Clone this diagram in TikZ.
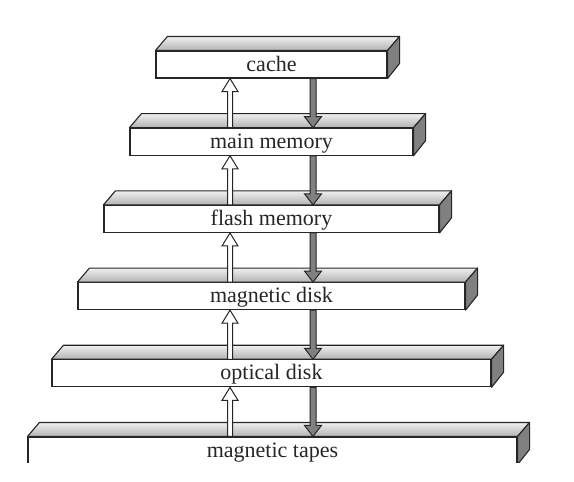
\documentclass[tikz,border=0pt]{standalone}
\usepackage{fontspec}
\setmainfont{Liberation Serif}
\usetikzlibrary{calc}
\tikzset{
  x=1pt, y=-1pt,
  front/.style={draw=black!85, line width=1.1pt, fill=white, inner sep=0pt,
    minimum height=27pt, text height=14pt, text depth=1pt,
    font=\fontsize{22}{26}\selectfont, text=black!85},
  topface/.style={draw=black!85, line width=1.1pt, line join=round,
    top color=black!6, bottom color=black!30},
  sideface/.style={draw=black!85, line width=1.1pt, line join=round, fill=black!50},
  uparr/.style={draw=black!85, line width=1pt, fill=white, line join=miter},
  downarr/.style={draw=black!85, line width=1pt, fill=black!50, line join=miter}
}
\newcommand{\boxfaces}[1]{%
  \path[topface] (#1.north west) -- ++(12,-14) -- ($(#1.north east)+(12,-14)$) -- (#1.north east) -- cycle;
  \path[sideface] (#1.north east) -- ++(12,-14) -- ++(0,27) -- (#1.south east) -- cycle;
}
\newcommand{\hierup}[2]{% from lower box #1 to upper box #2
  \path[uparr] let \p1=(#1.north), \p2=(#2.south) in
    (227.5pt,\y1) -- (227.5pt,\y2-13pt) -- (222pt,\y2-13pt) -- (230pt,\y2)
    -- (238pt,\y2-13pt) -- (232.5pt,\y2-13pt) -- (232.5pt,\y1) -- cycle;
}
\newcommand{\hierdown}[2]{% from upper box #1 to lower box #2
  \path[downarr] let \p1=(#1.south), \p2=(#2.north) in
    (310pt,\y1) -- (310pt,\y2+11pt) -- (304.5pt,\y2+11pt) -- (313pt,\y2)
    -- (321.5pt,\y2+11pt) -- (316pt,\y2+11pt) -- (316pt,\y1) -- cycle;
}
\begin{document}
\begin{tikzpicture}
\useasboundingbox (0,0) rectangle (574,482);
\begin{scope}
\clip (0,0) rectangle (574,462);
\node[front, minimum width=231pt] (b1) at (271.5,64.5) {cache};
\node[front, minimum width=283pt] (b2) at (271.5,141.7) {main memory};
\node[front, minimum width=335pt] (b3) at (271.5,218.9) {flash memory};
\node[front, minimum width=387pt] (b4) at (271.5,296.1) {magnetic disk};
\node[front, minimum width=439pt] (b5) at (271.5,373.3) {optical disk};
\node[front, minimum width=489pt] (b6) at (272.5,450.5) {magnetic tapes};
\boxfaces{b1}
\boxfaces{b2}
\boxfaces{b3}
\boxfaces{b4}
\boxfaces{b5}
\boxfaces{b6}
\hierup{b2}{b1}
\hierup{b3}{b2}
\hierup{b4}{b3}
\hierup{b5}{b4}
\hierup{b6}{b5}
\hierdown{b1}{b2}
\hierdown{b2}{b3}
\hierdown{b3}{b4}
\hierdown{b4}{b5}
\hierdown{b5}{b6}
\end{scope}
\end{tikzpicture}
\end{document}
